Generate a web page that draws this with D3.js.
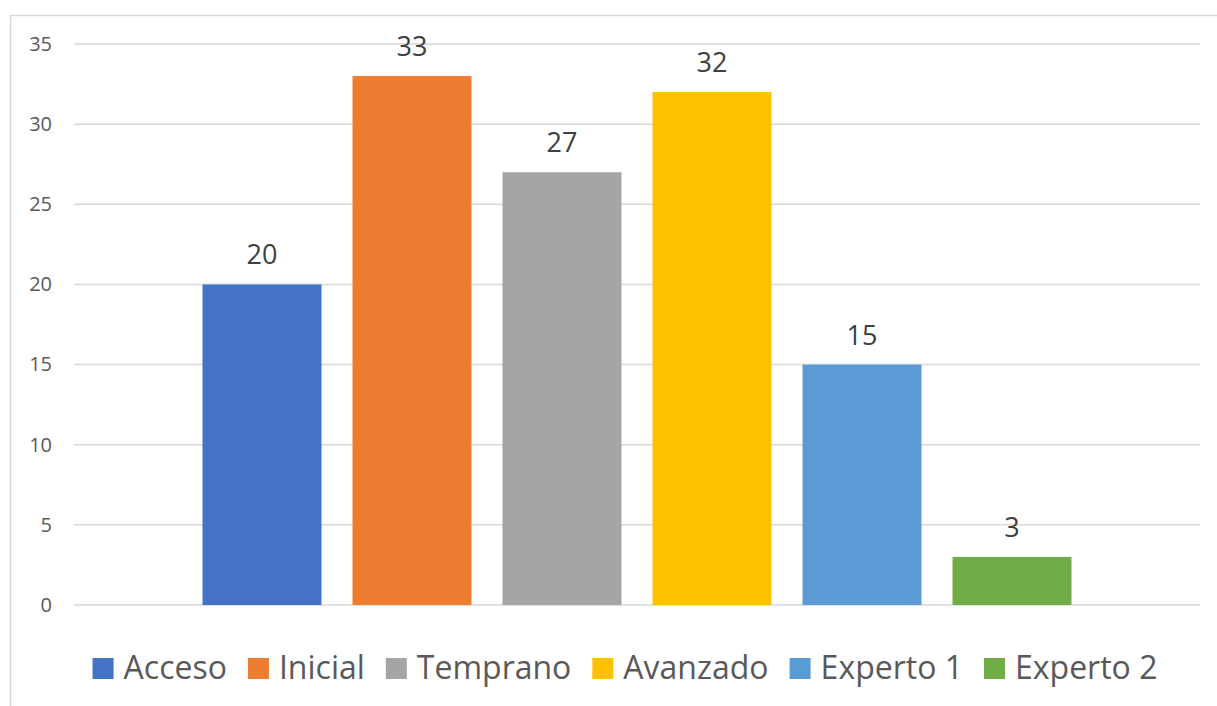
<!DOCTYPE html>
<html>
<head>
<meta charset="utf-8">
<script src="https://cdn.jsdelivr.net/npm/d3@7"></script>
<style>
  body { margin: 0; background: #fff; }
  svg { display: block; font-family: "Open Sans", sans-serif; }
</style>
</head>
<body>
<div id="chart"></div>
<script>
const series = ["Acceso", "Inicial", "Temprano", "Avanzado", "Experto 1", "Experto 2"];
const values = [20, 33, 27, 32, 15, 3];
const colors = ["#4472C4", "#ED7D31", "#A5A5A5", "#FFC000", "#5B9BD5", "#70AD47"];
const yTicks = [0, 5, 10, 15, 20, 25, 30, 35];

const width = 1217, height = 706;
const plot = { left: 74, right: 1200, top: 44, bottom: 605 };

const svg = d3.select("#chart")
  .append("svg")
    .attr("width", width)
    .attr("height", height);

// chart frame (runs off the right and bottom edges)
svg.append("rect")
  .attr("x", 10.5)
  .attr("y", 15.5)
  .attr("width", width)
  .attr("height", height)
  .attr("fill", "none")
  .attr("stroke", "#d9d9d9")
  .attr("stroke-width", 1.5);

const yScale = d3.scaleLinear()
  .domain([0, 35])
  .range([plot.bottom, plot.top]);

const xScale = d3.scaleBand()
  .domain(series)
  .range([plot.left, plot.right])
  .paddingInner(0.2067)
  .paddingOuter(0.8567);

// gridlines
svg.append("g")
  .selectAll("line")
  .data(yTicks)
  .join("line")
    .attr("x1", plot.left)
    .attr("x2", plot.right)
    .attr("y1", d => yScale(d))
    .attr("y2", d => yScale(d))
    .attr("stroke", "#d9d9d9")
    .attr("stroke-width", 1.5);

// y axis labels
const yAxis = d3.axisLeft(yScale).tickValues(yTicks).tickSize(0).tickPadding(0);
svg.append("g")
  .attr("transform", `translate(52, 0)`)
  .call(yAxis)
  .call(g => g.select(".domain").remove())
  .call(g => g.selectAll("text")
    .attr("fill", "#595959")
    .style("font-family", "'Open Sans', sans-serif")
    .style("font-size", "20px"));

// bars
svg.append("g")
  .selectAll("rect")
  .data(series)
  .join("rect")
    .attr("x", d => xScale(d))
    .attr("y", (d, i) => yScale(values[i]))
    .attr("width", xScale.bandwidth())
    .attr("height", (d, i) => plot.bottom - yScale(values[i]))
    .attr("fill", (d, i) => colors[i]);

// data labels
svg.append("g")
  .selectAll("text")
  .data(series)
  .join("text")
    .text((d, i) => values[i])
    .attr("x", d => xScale(d) + xScale.bandwidth() / 2)
    .attr("y", (d, i) => yScale(values[i]) - 20)
    .attr("text-anchor", "middle")
    .attr("fill", "#404040")
    .style("font-size", "27px");

// legend
const legendFont = 32;
const swatch = 21;
const legend = svg.append("g");
const items = legend.selectAll("g")
  .data(series)
  .join("g");

items.append("rect")
  .attr("width", swatch)
  .attr("height", swatch)
  .attr("y", -swatch)
  .attr("fill", (d, i) => colors[i]);

items.append("text")
  .text(d => d)
  .attr("x", swatch + 10)
  .attr("y", 0)
  .attr("fill", "#595959")
  .style("font-size", legendFont + "px");

let offset = 0;
items.each(function() {
  const w = this.querySelector("text").getComputedTextLength();
  d3.select(this).attr("transform", `translate(${offset}, 0)`);
  offset += swatch + 10 + w + 21;
});
const legendWidth = offset - 21;
legend.attr("transform", `translate(${625 - legendWidth / 2}, 679)`);
</script>
</body>
</html>
